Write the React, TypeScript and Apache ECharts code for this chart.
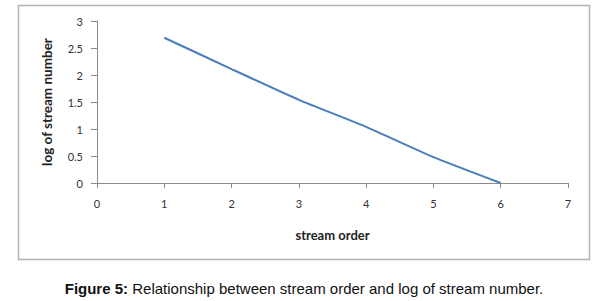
import React, { useEffect, useRef } from "react";
import * as echarts from "echarts";

const streamOrder = [1, 2, 3, 4, 5, 6];
const logStreamNumber = [2.69, 2.11, 1.54, 1.04, 0.48, 0];
const xTicks = [0, 1, 2, 3, 4, 5, 6, 7];
const yTicks = [0, 0.5, 1, 1.5, 2, 2.5, 3];
const xTitle = "stream order";
const yTitle = "log of stream number";
const captionBold = "Figure 5:";
const captionText = " Relationship between stream order and log of stream number.";

export default function App() {
  const ref = useRef<HTMLDivElement>(null);
  useEffect(() => {
    if (!ref.current) return;
    const chart = echarts.init(ref.current, null, { renderer: "svg" });
    const font = "Lato, 'Open Sans', sans-serif";
    chart.setOption({
      animation: false,
      backgroundColor: "#ffffff",
      grid: { left: 97, top: 21, right: 41, bottom: 118, containLabel: false },
      xAxis: {
        type: "value",
        min: xTicks[0],
        max: xTicks[xTicks.length - 1],
        interval: 1,
        name: xTitle,
        nameLocation: "middle",
        nameGap: 45,
        nameTextStyle: { fontFamily: font, fontSize: 13, fontWeight: "bold", color: "#222" },
        axisLine: { lineStyle: { color: "#8a8a8a", width: 1 } },
        axisTick: { show: true, length: 5, lineStyle: { color: "#8a8a8a" } },
        axisLabel: { fontFamily: font, fontSize: 11, color: "#333", margin: 15 },
        splitLine: { show: false },
      },
      yAxis: {
        type: "value",
        min: yTicks[0],
        max: yTicks[yTicks.length - 1],
        interval: 0.5,
        name: yTitle,
        nameLocation: "middle",
        nameGap: 43,
        nameRotate: 90,
        nameTextStyle: { fontFamily: font, fontSize: 13.5, fontWeight: "bold", color: "#222" },
        axisLine: { show: true, lineStyle: { color: "#8a8a8a", width: 1 } },
        axisTick: { show: true, length: 6, lineStyle: { color: "#8a8a8a" } },
        axisLabel: { fontFamily: font, fontSize: 11, color: "#333", margin: 14 },
        splitLine: { show: false },
      },
      series: [
        {
          type: "line",
          data: streamOrder.map((x, i) => [x, logStreamNumber[i]]),
          showSymbol: false,
          smooth: 0.15,
          lineStyle: { color: "#4a7ebb", width: 2 },
          itemStyle: { color: "#4a7ebb" },
        },
      ],
      graphic: [
        {
          type: "rect",
          shape: { x: 18.5, y: 5.5, width: 571, height: 254 },
          style: { fill: "none", stroke: "#b4b4b4", lineWidth: 1.5 },
          silent: true,
        },
        {
          type: "text",
          x: 304,
          y: 288,
          style: {
            text: "{b|" + captionBold + "}{n|" + captionText + "}",
            align: "center",
            verticalAlign: "middle",
            rich: {
              b: { fontFamily: "'Liberation Sans', Arial, sans-serif", fontSize: 15, fontWeight: "bold", fill: "#111" },
              n: { fontFamily: "'Liberation Sans', Arial, sans-serif", fontSize: 15, fill: "#111" },
            },
          },
        },
      ],
    });
    return () => chart.dispose();
  }, []);
  return (
    <div
      ref={ref}
      style={{ position: "fixed", left: 0, top: 0, width: 609, height: 301, background: "#fff" }}
    />
  );
}
